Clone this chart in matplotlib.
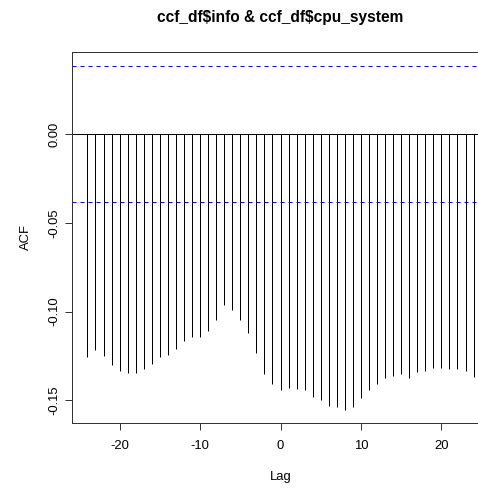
import numpy as np
import matplotlib
matplotlib.use("Agg")
import matplotlib.pyplot as plt

plt.rcParams['font.family'] = ['Liberation Sans', 'DejaVu Sans']
plt.rcParams['axes.unicode_minus'] = False

# cross-correlation values, lags -24..24
lags = list(range(-24, 25))
acf = [-0.1257, -0.1215, -0.1251, -0.1300, -0.1333, -0.1347, -0.1347, -0.1322,
       -0.1294, -0.1257, -0.1246, -0.1210, -0.1167, -0.1144, -0.1142, -0.1108,
       -0.1047, -0.0963, -0.0993, -0.1047, -0.1118, -0.1232, -0.1353, -0.1406,
       -0.1440, -0.1429, -0.1436, -0.1440, -0.1478, -0.1496, -0.1532, -0.1538,
       -0.1556, -0.1538, -0.1489, -0.1440, -0.1410, -0.1376, -0.1361, -0.1350,
       -0.1375, -0.1339, -0.1336, -0.1316, -0.1316, -0.1322, -0.1322, -0.1333,
       -0.1369]
ci = 0.0385
xticks = [-20, -10, 0, 10, 20]
yticks = [0.0, -0.05, -0.10, -0.15]
ytick_labels = ["0.00", "-0.05", "-0.10", "-0.15"]

fig = plt.figure(figsize=(478 / 72, 489 / 72), dpi=72)
# plot region runs past the right edge, as in the cropped R output
ax = fig.add_axes([72 / 478, 66 / 489, 417 / 478, 371 / 489])

ax.vlines(lags, 0, acf, color='black', lw=1)
ax.axhline(0, color='black', lw=1)
ax.axhline(ci, color='blue', lw=1, ls=(0, (4, 4)))
ax.axhline(-ci, color='blue', lw=1, ls=(0, (4, 4)))

ax.set_xlim(-25.92, 25.92)
ax.set_ylim(-0.1627, 0.0462)
ax.set_xticks(xticks)
ax.set_yticks(yticks)
ax.set_yticklabels(ytick_labels, rotation=90, va='center')
ax.tick_params(direction='out', length=7, width=1, labelsize=13, pad=5,
               color='#333333')
ax.tick_params(axis='x', pad=10)
for s in ax.spines.values():
    s.set_linewidth(1)
    s.set_color('#333333')

ax.set_title(r"ccf_df\$info & ccf_df\$cpu_system", fontsize=15.5, fontweight='bold',
             pad=30)
ax.set_xlabel("Lag", fontsize=13, labelpad=19)
ax.set_ylabel("ACF", fontsize=13, labelpad=16)

fig.savefig("out.png", dpi=72)
